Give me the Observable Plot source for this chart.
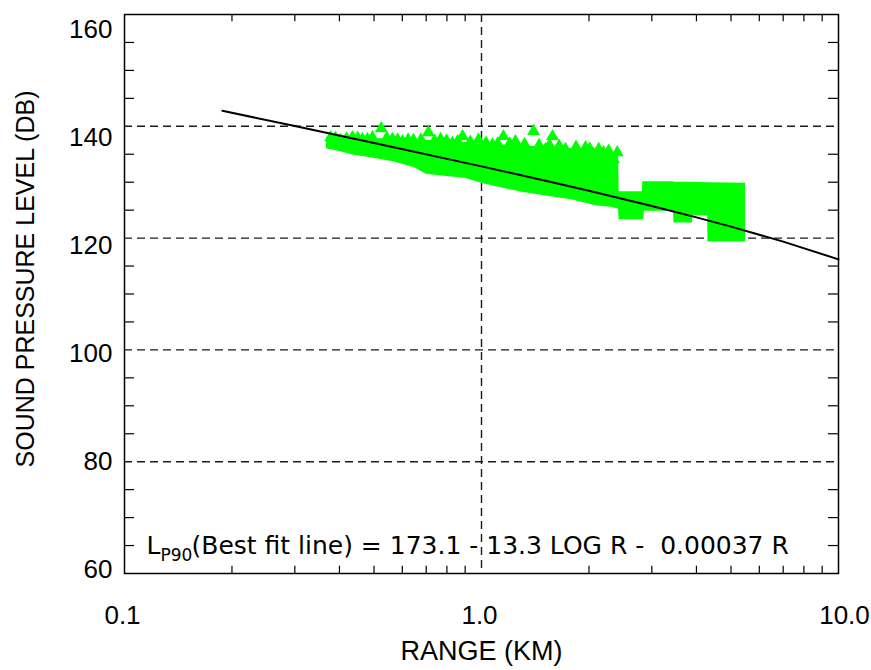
<!DOCTYPE html>
<html>
<head>
<meta charset="utf-8">
<script src="https://cdn.jsdelivr.net/npm/d3@7"></script>
<script src="https://cdn.jsdelivr.net/npm/@observablehq/plot@0.6"></script>
<style>
  html, body { margin: 0; padding: 0; background: #ffffff; }
  #chart svg { display: block; }
</style>
</head>
<body>
<div id="chart"></div>
<script>
// ---- Data ----
// Envelope of the dense green triangle cloud (range in km, SPL in dB)
const envRange = [0.368, 0.40, 0.44, 0.50, 0.57, 0.65, 0.70, 0.80, 0.90, 1.00, 1.10, 1.30, 1.60, 1.80, 2.09, 2.30, 2.42, 2.43, 2.82, 2.83, 2.85, 2.86, 3.45, 3.46, 3.90, 3.91, 4.30, 4.31, 5.49];
const envLow   = [136.0, 135.5, 134.8, 134.3, 133.6, 132.6, 131.4, 131.0, 130.7, 129.8, 129.2, 128.2, 127.3, 126.8, 125.8, 125.5, 125.2, 123.3, 123.3, 123.3, 123.3, 124.8, 124.8, 122.7, 122.7, 124.0, 124.0, 119.3, 119.3];
const envHigh  = [138.0, 138.0, 137.9, 137.8, 137.7, 137.6, 137.5, 137.3, 137.1, 136.8, 136.7, 136.5, 136.2, 136.0, 135.7, 135.3, 135.0, 128.3, 128.3, 130.1, 130.1, 130.1, 130.1, 130.0, 130.0, 130.0, 129.9, 129.9, 129.8];

// Individual triangles visible along the top of the cloud
const triRange = [0.378, 0.390, 0.403, 0.419, 0.435, 0.450, 0.464, 0.479, 0.495, 0.524, 0.543, 0.563, 0.582, 0.601, 0.623, 0.645, 0.677, 0.710, 0.739, 0.768, 0.798, 0.829, 0.857, 0.885, 0.930, 0.981, 1.030, 1.074, 1.110, 1.152, 1.200, 1.245, 1.320, 1.399, 1.450, 1.511, 1.550, 1.581, 1.650, 1.719, 1.840, 1.956, 2.010, 2.059, 2.130, 2.197, 2.270, 2.343, 2.400];
const triSpl   = [138.0, 137.9, 137.5, 137.8, 138.0, 137.9, 137.7, 137.7, 138.0, 139.6, 137.9, 137.7, 137.6, 137.3, 137.6, 137.5, 137.6, 138.9, 137.4, 137.7, 137.4, 137.0, 137.3, 138.2, 137.2, 137.6, 137.0, 136.7, 136.9, 138.2, 136.9, 137.3, 136.8, 139.1, 136.6, 135.9, 136.6, 138.2, 136.5, 135.9, 136.3, 136.2, 136.0, 135.0, 135.9, 135.3, 135.6, 134.1, 135.3];

// Best fit line: L = 173.1 - 13.3 LOG R - 0.00037 R
const fitRange = [0.188, 0.3, 0.5, 1.0, 1.5, 2.0, 3.0, 4.0, 5.0, 7.0, 10.0];
const fitSpl   = [142.78, 140.04, 137.02, 132.83, 130.30, 128.46, 125.74, 123.71, 122.05, 119.37, 116.20];

// Axes
const xTicks = [0.1, 1, 10];
const xTickLabels = ["0.1", "1.0", "10.0"];
const xMinor = [0.2, 0.3, 0.4, 0.5, 0.6, 0.7, 0.8, 0.9, 2, 3, 4, 5, 6, 7, 8, 9];
const yTicks = [60, 80, 100, 120, 140, 160];
const yGrid = [80, 100, 120, 140];
const yMinor = [65, 70, 75, 85, 90, 95, 105, 110, 115, 125, 130, 135, 145, 150, 155];
const xTitle = "RANGE (KM)";
const yTitle = "SOUND PRESSURE LEVEL (DB)";
const fitLabelMain = "L";
const fitLabelSub = "P90";
const fitLabelRest = "(Best fit line) = 173.1 - 13.3 LOG R -\u00a0 0.00037 R";

const envelope = envRange.map((r, i) => ({range: r, low: envLow[i], high: envHigh[i]}));
const triangles = triRange.map((r, i) => ({range: r, spl: triSpl[i]}));
const fit = fitRange.map((r, i) => ({range: r, spl: fitSpl[i]}));
const xLab = xTicks.map((v, i) => ({value: v, label: xTickLabels[i]}));

const GREEN = "#00ff00";
const GRID = "#1a1a1a";
const sans = "Liberation Sans, Arial, Helvetica, sans-serif";
const wide = "DejaVu Sans, Verdana, sans-serif";
// tick labels in the original sit slightly tighter than the ticks themselves
const labelY = d => 109 + (d - 110) * 0.966;

const chart = Plot.plot({
  width: 871,
  height: 670,
  marginLeft: 124,
  marginRight: 33,
  marginTop: 14,
  marginBottom: 97,
  x: {type: "log", domain: [0.1, 10], axis: null},
  y: {domain: [60, 160], axis: null},
  style: {fontFamily: sans, background: "#ffffff", color: "#000000"},
  marks: [
    // dashed grid
    Plot.ruleY(yGrid, {y: d => d, stroke: GRID, strokeWidth: 1.4, strokeDasharray: "8,5"}),
    Plot.ruleX([1], {x: d => d, stroke: GRID, strokeWidth: 1.4, strokeDasharray: "8,5"}),
    // data cloud
    Plot.areaY(envelope, {x: "range", y1: "low", y2: "high", fill: GREEN, curve: "linear"}),
    Plot.dot(triangles, {x: "range", y: "spl", symbol: "triangle", r: 4.8, fill: GREEN, stroke: "none"}),
    // best fit
    Plot.line(fit, {x: "range", y: "spl", stroke: "#000000", strokeWidth: 2}),
    // frame
    Plot.frame({stroke: "#000000", strokeWidth: 1.5}),
    // minor ticks (inward) on all four sides
    Plot.ruleX(xMinor, {x: d => d, y1: 60, y2: 61.3, stroke: "#000000", strokeWidth: 1.2}),
    Plot.ruleX(xMinor, {x: d => d, y1: 158.7, y2: 160, stroke: "#000000", strokeWidth: 1.2}),
    Plot.ruleY(yMinor, {y: d => d, x1: 0.1, x2: 0.1067, stroke: "#000000", strokeWidth: 1.2}),
    Plot.ruleY(yMinor, {y: d => d, x1: 9.37, x2: 10, stroke: "#000000", strokeWidth: 1.2}),
    // tick labels
    Plot.text(yTicks, {y: labelY, text: d => String(d), frameAnchor: "left", textAnchor: "end", lineAnchor: "middle", dx: -12, fontSize: 26, fill: "#000000"}),
    Plot.text(xLab, {filter: d => d.value < 10, x: "value", text: "label", frameAnchor: "bottom", textAnchor: "middle", lineAnchor: "middle", dx: -2, dy: 42, fontSize: 26, fill: "#000000"}),
    Plot.text(xLab, {filter: d => d.value >= 10, x: "value", text: "label", frameAnchor: "bottom", textAnchor: "middle", lineAnchor: "middle", dx: 6, dy: 42, fontSize: 26, fill: "#000000"}),
    // axis titles
    Plot.text([xTitle], {text: d => d, frameAnchor: "bottom", textAnchor: "middle", lineAnchor: "middle", dy: 78, fontSize: 27, fill: "#000000"}),
    Plot.text([yTitle], {text: d => d, frameAnchor: "left", textAnchor: "middle", lineAnchor: "middle", rotate: -90, dx: -99, dy: -15, fontSize: 25, fill: "#000000"}),
    // fit annotation
    Plot.text([fitLabelMain], {text: d => d, frameAnchor: "bottom-left", textAnchor: "start", lineAnchor: "bottom", dx: 22, dy: -20, fontSize: 25, fontFamily: wide, fill: "#000000"}),
    Plot.text([fitLabelSub], {text: d => d, frameAnchor: "bottom-left", textAnchor: "start", lineAnchor: "bottom", dx: 36, dy: -13, fontSize: 17, fontFamily: wide, fill: "#000000"}),
    Plot.text([fitLabelRest], {text: d => d, frameAnchor: "bottom-left", textAnchor: "start", lineAnchor: "bottom", dx: 67, dy: -20, fontSize: 25, fontFamily: wide, fill: "#000000"})
  ]
});

document.getElementById("chart").appendChild(chart);
</script>
</body>
</html>
